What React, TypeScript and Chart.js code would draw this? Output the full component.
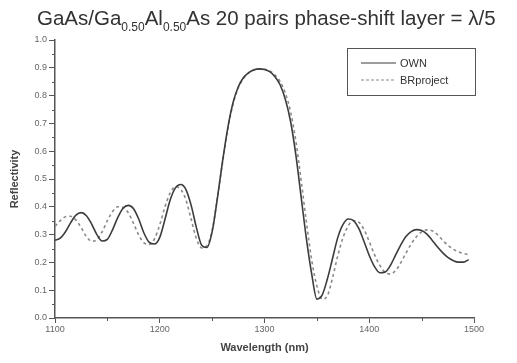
import { useEffect, useRef } from "react";
import { Chart, registerables } from "chart.js";

Chart.register(...registerables);

// Wavelength sampling (nm)
const wavelengths = [
  1100, 1105, 1110, 1115, 1120, 1125, 1130, 1135, 1140, 1145,
  1150, 1155, 1160, 1165, 1170, 1175, 1180, 1185, 1190, 1195,
  1200, 1205, 1210, 1215, 1220, 1225, 1230, 1235, 1240, 1245,
  1250, 1255, 1260, 1265, 1270, 1275, 1280, 1285, 1290, 1295,
  1300, 1305, 1310, 1315, 1320, 1325, 1330, 1335, 1340, 1345,
  1350, 1355, 1360, 1365, 1370, 1375, 1380, 1385, 1390, 1395,
  1400, 1405, 1410, 1415, 1420, 1425, 1430, 1435, 1440, 1445,
  1450, 1455, 1460, 1465, 1470, 1475, 1480, 1485, 1490, 1495,
];

// Reflectivity from our own transfer-matrix code
const ownValues = [
  0.280, 0.287, 0.310, 0.343, 0.370, 0.379, 0.368, 0.338, 0.300, 0.277,
  0.283, 0.318, 0.362, 0.395, 0.405, 0.393, 0.355, 0.305, 0.272, 0.266,
  0.290, 0.355, 0.425, 0.468, 0.480, 0.462, 0.405, 0.325, 0.262, 0.254,
  0.310, 0.430, 0.565, 0.685, 0.775, 0.832, 0.865, 0.883, 0.893, 0.896,
  0.894, 0.886, 0.868, 0.838, 0.785, 0.705, 0.585, 0.435, 0.285, 0.160,
  0.068, 0.082, 0.140, 0.215, 0.290, 0.337, 0.356, 0.350, 0.322, 0.275,
  0.225, 0.185, 0.163, 0.165, 0.188, 0.225, 0.262, 0.293, 0.311, 0.318,
  0.315, 0.302, 0.280, 0.256, 0.235, 0.218, 0.207, 0.201, 0.201, 0.210,
];

// Reflectivity from the BRproject reference calculation
const brProjectValues = [
  0.330, 0.350, 0.364, 0.366, 0.352, 0.325, 0.293, 0.276, 0.282, 0.310,
  0.350, 0.383, 0.400, 0.398, 0.378, 0.340, 0.298, 0.270, 0.265, 0.285,
  0.335, 0.400, 0.450, 0.472, 0.463, 0.425, 0.355, 0.285, 0.252, 0.260,
  0.315, 0.430, 0.560, 0.680, 0.770, 0.828, 0.862, 0.882, 0.892, 0.896,
  0.895, 0.889, 0.874, 0.850, 0.808, 0.740, 0.635, 0.495, 0.345, 0.210,
  0.115, 0.068, 0.080, 0.145, 0.225, 0.290, 0.332, 0.350, 0.345, 0.318,
  0.275, 0.228, 0.190, 0.165, 0.158, 0.170, 0.198, 0.233, 0.266, 0.292,
  0.310, 0.317, 0.314, 0.300, 0.280, 0.262, 0.248, 0.238, 0.232, 0.228,
];

const seriesNames = ["OWN", "BRproject"];
const xMinorTicks = [1150, 1250, 1350, 1450];
const yMinorTicks = [0.05, 0.15, 0.25, 0.35, 0.45, 0.55, 0.65, 0.75, 0.85, 0.95];

const titleParts = [
  { text: "GaAs/Ga", sub: false },
  { text: "0.50", sub: true },
  { text: "Al", sub: false },
  { text: "0.50", sub: true },
  { text: "As 20 pairs phase-shift layer = \u03bb/5", sub: false },
];

const FONT = "Arial, 'Liberation Sans', sans-serif";
const AXIS_COLOR = "#555";
const SOLID_COLOR = "#3c3c3c";
const DASH_COLOR = "#8a8a8a";

const decorations = {
  id: "decorations",
  afterDraw(chart: any) {
    const { ctx, chartArea, scales } = chart;
    ctx.save();

    // Title with subscripted compositions
    let tx = 37;
    ctx.fillStyle = "#333";
    ctx.textBaseline = "alphabetic";
    ctx.textAlign = "left";
    for (const part of titleParts) {
      ctx.font = part.sub ? `12px ${FONT}` : `20.5px ${FONT}`;
      ctx.fillText(part.text, tx, part.sub ? 31 : 25);
      tx += ctx.measureText(part.text).width;
    }

    // Minor tick marks
    ctx.strokeStyle = AXIS_COLOR;
    ctx.lineWidth = 1;
    ctx.beginPath();
    for (const v of yMinorTicks) {
      const y = Math.round(scales.y.getPixelForValue(v)) + 0.5;
      ctx.moveTo(chartArea.left - 3, y);
      ctx.lineTo(chartArea.left, y);
    }
    for (const v of xMinorTicks) {
      const x = Math.round(scales.x.getPixelForValue(v)) + 0.5;
      ctx.moveTo(x, chartArea.bottom);
      ctx.lineTo(x, chartArea.bottom + 3);
    }
    ctx.stroke();

    // Legend box
    const bx = 347.5;
    const by = 48.5;
    ctx.strokeStyle = "#555";
    ctx.lineWidth = 1;
    ctx.strokeRect(bx, by, 128, 47);

    ctx.font = `11px ${FONT}`;
    ctx.textBaseline = "middle";
    ctx.fillStyle = "#333";
    const rows = [
      { y: 63, color: SOLID_COLOR, dash: [] as number[] },
      { y: 80, color: DASH_COLOR, dash: [3, 2] },
    ];
    rows.forEach((row, i) => {
      ctx.strokeStyle = row.color;
      ctx.setLineDash(row.dash);
      ctx.lineWidth = 1.2;
      ctx.beginPath();
      ctx.moveTo(361, row.y);
      ctx.lineTo(396, row.y);
      ctx.stroke();
      ctx.setLineDash([]);
      ctx.fillText(seriesNames[i], 400, row.y + 0.5);
    });

    ctx.restore();
  },
};

export default function App() {
  const canvasRef = useRef<HTMLCanvasElement | null>(null);

  useEffect(() => {
    const canvas = canvasRef.current;
    if (!canvas) return;

    const chart = new Chart(canvas, {
      type: "line",
      data: {
        datasets: [
          {
            label: seriesNames[0],
            data: wavelengths.map((w, i) => ({ x: w, y: ownValues[i] })),
            borderColor: SOLID_COLOR,
            borderWidth: 1.6,
            pointRadius: 0,
            cubicInterpolationMode: "monotone",
            fill: false,
          },
          {
            label: seriesNames[1],
            data: wavelengths.map((w, i) => ({ x: w, y: brProjectValues[i] })),
            borderColor: DASH_COLOR,
            borderWidth: 1.6,
            borderDash: [3, 3],
            pointRadius: 0,
            cubicInterpolationMode: "monotone",
            fill: false,
          },
        ],
      },
      options: {
        responsive: false,
        animation: false,
        events: [],
        layout: { padding: { top: 40, right: 43, left: 0, bottom: 0 } },
        plugins: {
          legend: { display: false },
          title: { display: false },
          tooltip: { enabled: false },
        },
        scales: {
          x: {
            type: "linear",
            min: 1100,
            max: 1500,
            afterFit: (s: any) => {
              s.height = 45;
            },
            ticks: {
              stepSize: 100,
              padding: 1,
              color: "#666",
              font: { family: FONT, size: 9 },
              maxRotation: 0,
              callback: (v: any) => String(v),
            },
            grid: {
              display: true,
              drawOnChartArea: false,
              drawTicks: true,
              tickLength: 5,
              color: AXIS_COLOR,
            },
            border: { display: true, color: AXIS_COLOR, width: 1.5 },
            title: {
              display: true,
              text: "Wavelength (nm)",
              color: "#444",
              font: { family: FONT, size: 11, weight: "bold" },
              padding: { top: 0, bottom: 8 },
            },
          },
          y: {
            min: 0,
            max: 1,
            afterFit: (s: any) => {
              s.width = 55;
            },
            ticks: {
              stepSize: 0.1,
              padding: 2,
              color: "#666",
              font: { family: FONT, size: 9 },
              callback: (v: any) => Number(v).toFixed(1),
            },
            grid: {
              display: true,
              drawOnChartArea: false,
              drawTicks: true,
              tickLength: 6,
              color: AXIS_COLOR,
            },
            border: { display: true, color: AXIS_COLOR, width: 1.5 },
            title: {
              display: true,
              text: "Reflectivity",
              color: "#444",
              font: { family: FONT, size: 11, weight: "bold" },
              padding: { top: 8, bottom: 0 },
            },
          },
        },
      },
      plugins: [decorations],
    });

    return () => chart.destroy();
  }, []);

  return (
    <div
      style={{
        position: "fixed",
        left: 0,
        top: 0,
        width: 517,
        height: 363,
        background: "#fff",
      }}
    >
      <canvas ref={canvasRef} width={517} height={363} />
    </div>
  );
}
